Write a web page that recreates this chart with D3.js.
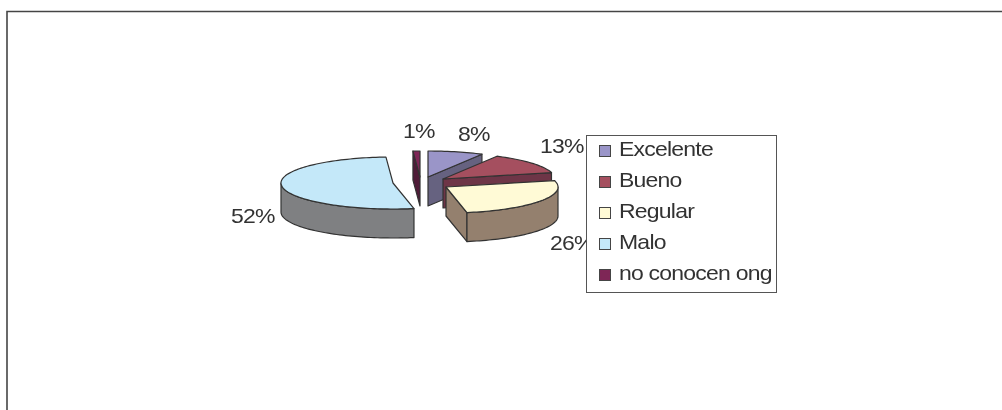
<!DOCTYPE html>
<html><head><meta charset="utf-8">
<script src="https://cdn.jsdelivr.net/npm/d3@7/dist/d3.min.js"></script>
<style>html,body{margin:0;padding:0;background:#fff}svg{display:block}text{font-family:"Liberation Sans",Arial,sans-serif;fill:#333}</style>
</head><body><div id="c"></div>
<script>
const categories = ["Excelente","Bueno","Regular","Malo","no conocen ong"];
const values = [8,13,26,52,1];
const labels = ["8%","13%","26%","52%","1%"];
const topColors = ["#9A95C8","#A5505F","#FFFAD6","#C4E8F9","#7E2857"];
const sideColors = ["#666280","#6E3546","#94806E","#7F8082","#4F1B38"];

const W=1002,H=410,rx=112,ry=26,depth=29;
const centers=[[428,177],[443,179],[446,187],[393,183],[420,177]];
const labelPos=[[458,141],[540,153],[550,250],[231,223],[403,138]];
const drawOrder=[0,4,3,1,2];
const stretch=1.15;

const svg=d3.select("#c").append("svg").attr("width",W).attr("height",H);
svg.append("defs").append("filter").attr("id","soft").append("feGaussianBlur").attr("stdDeviation",0.35);
const root=svg.append("g").attr("filter","url(#soft)");

root.append("path").attr("d",d3.line()([[7,H],[7,11.5],[W,11.5]])).attr("fill","none").attr("stroke","#444").attr("stroke-width",1.6);

const arcs=d3.pie().sort(null)(values);
const line=d3.line();
const pt=(c,a,dz=0)=>[c[0]+rx*Math.sin(a),c[1]-ry*Math.cos(a)+dz];
const arcPts=(c,a0,a1,dz)=>{
  const n=Math.max(2,Math.ceil(Math.abs(a1-a0)/0.03));
  return d3.range(n+1).map(i=>pt(c,a0+(a1-a0)*i/n,dz));
};
const stroke=s=>s.attr("stroke","#333").attr("stroke-width",1.2).attr("stroke-linejoin","round");

drawOrder.forEach(i=>{
  const c=centers[i],a0=arcs[i].startAngle,a1=arcs[i].endAngle;
  const g=root.append("g");
  const face=pts=>stroke(g.append("path").attr("d",line(pts)+"Z").attr("fill",sideColors[i]));
  const base=[c[0],c[1]+depth];
  if(-Math.sin(a0)>0.001) face([c,pt(c,a0),pt(c,a0,depth),base]);
  if(Math.sin(a1)>0.001) face([c,pt(c,a1),pt(c,a1,depth),base]);
  const w0=Math.max(a0,Math.PI/2),w1=Math.min(a1,3*Math.PI/2);
  if(w1>w0) face(arcPts(c,w0,w1,0).concat(arcPts(c,w1,w0,depth)));
  stroke(g.append("path").attr("d",line([c].concat(arcPts(c,a0,a1,0)))+"Z").attr("fill",topColors[i]));
});

root.selectAll("text.pct").data(labels).join("text").attr("class","pct")
  .attr("transform",(d,i)=>`translate(${labelPos[i][0]},${labelPos[i][1]}) scale(${stretch},1)`)
  .attr("font-size",20).attr("letter-spacing",-0.68).text(d=>d);

const legendY=d3.scalePoint().domain(categories).range([150.5,274.5]);
const legend=root.append("g");
legend.append("rect").attr("x",586.5).attr("y",135.5).attr("width",190).attr("height",157).attr("fill","#fff").attr("stroke","#555");
categories.forEach((name,i)=>{
  const y=legendY(name);
  legend.append("rect").attr("x",599.5).attr("y",y-5).attr("width",11).attr("height",11).attr("fill",topColors[i]).attr("stroke","#444");
  legend.append("text").attr("transform",`translate(619,${y+5.5}) scale(${stretch},1)`).attr("font-size",20).attr("letter-spacing",-0.68).text(name);
});
</script></body></html>
